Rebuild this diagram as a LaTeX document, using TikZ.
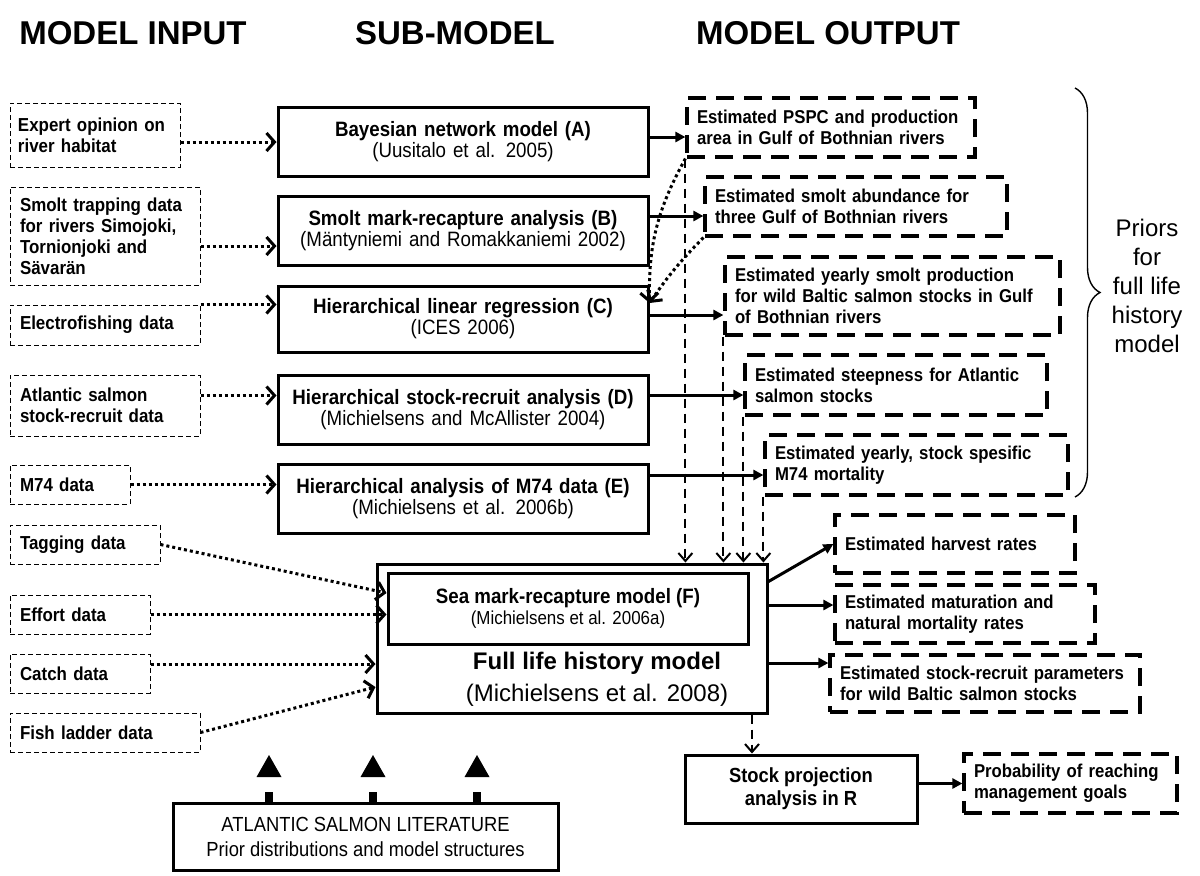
\documentclass[tikz,border=0pt]{standalone}
\usepackage{fontspec}
\setmainfont{Liberation Sans}
\newfontfamily\narrowfont{Liberation Sans}[FakeStretch=0.9]
\usepackage{tikz}
\usetikzlibrary{arrows.meta,positioning,calc,decorations.pathreplacing}

\begin{document}
\begin{tikzpicture}[x=0.5pt,y=-0.5pt,
  hdr/.style={font=\bfseries\fontsize{16.5}{18}\selectfont},
  inbox/.style={draw,line width=0.5pt,dash pattern=on 2.5pt off 1.5pt,align=left,inner xsep=5pt,inner ysep=0pt,font=\narrowfont\bfseries\fontsize{9.4}{10.5}\selectfont},
  subbox/.style={draw,line width=1.5pt,align=center,text width=177pt,inner xsep=4pt,inner ysep=0pt,minimum height=34.5pt,font=\narrowfont\fontsize{10.4}{10.5}\selectfont},
  outbox/.style={draw,line width=1.6pt,dash pattern=on 9pt off 5pt,align=left,inner xsep=5pt,inner ysep=0pt,font=\narrowfont\bfseries\fontsize{9.3}{10.5}\selectfont},
  solidbox/.style={draw,line width=1.5pt,align=center,inner sep=0pt},
  dotarr/.style={line width=1.5pt,dash pattern=on 1.5pt off 1.5pt,-{Straight Barb[length=4pt,width=9pt]}},
  solarr/.style={line width=1.5pt,-{Triangle[length=5pt,width=5pt]}},
  dasharr/.style={line width=1pt,dash pattern=on 4.5pt off 3pt,-{Straight Barb[length=4pt,width=7pt]}}]
  \useasboundingbox (0,0) rectangle (1200,875); % 画像全体の範囲

  % 見出し
  \node[hdr] (hin) at (133,33) {MODEL INPUT};
  \node[hdr] (hsub) at (455,33) {SUB-MODEL};
  \node[hdr] (hout) at (828,33) {MODEL OUTPUT};

  % 入力データ（細い破線の箱）
  \node[inbox,inner xsep=4pt,text width=77pt,minimum height=32pt] (expert) at (95,135) {Expert opinion on\\river habitat};
  \node[inbox,text width=85pt,minimum height=49pt] (trap) at (105,236) {Smolt trapping data\\for rivers Simojoki,\\Tornionjoki and\\Sävarän};
  \node[inbox,text width=85pt,minimum height=20pt] (elec) at (105,325) {Electrofishing data};
  \node[inbox,text width=85pt,minimum height=30.5pt] (atl) at (105,405.5) {Atlantic salmon\\stock-recruit data};
  \node[inbox,text width=50pt,minimum height=19.5pt] (m74) at (70,484.5) {M74 data};
  \node[inbox,text width=65pt,minimum height=19.5pt] (tag) at (85,544.5) {Tagging data};
  \node[inbox,text width=60pt,minimum height=19.5pt] (effort) at (80,614.5) {Effort data};
  \node[inbox,text width=60pt,minimum height=19.5pt] (catch) at (80,673.5) {Catch data};
  \node[inbox,text width=85pt,minimum height=19.5pt] (fish) at (105,732.5) {Fish ladder data};

  % サブモデル（太い実線の箱）
  \node[subbox] (A) at (463,142) {{\bfseries Bayesian network model (A)}\\(Uusitalo et al. 2005)};
  \node[subbox] (B) at (463,231) {{\bfseries Smolt mark-recapture analysis (B)}\\(Mäntyniemi and Romakkaniemi 2002)};
  \node[subbox,minimum height=33pt] (C) at (463,319) {{\bfseries Hierarchical linear regression (C)}\\(ICES 2006)};
  \node[subbox] (D) at (463,410) {{\bfseries Hierarchical stock-recruit analysis (D)}\\(Michielsens and McAllister 2004)};
  \node[subbox] (E) at (463,499) {{\bfseries Hierarchical analysis of M74 data (E)}\\(Michielsens et al. 2006b)};

  % 全生活史モデル
  \node[solidbox,minimum width=195pt,minimum height=74.5pt] (full) at (572,638.5) {};
  \node[solidbox,minimum width=180pt,minimum height=35.5pt,font=\narrowfont\fontsize{9.4}{10.5}\selectfont] (sea) at (568,608.5) {{\bfseries\fontsize{10.4}{10.5}\selectfont Sea mark-recapture model (F)}\\(Michielsens et al. 2006a)};
  \node[align=center,font=\fontsize{12}{16}\selectfont] (fulltxt) at (597,679) {{\bfseries Full life history model}\\(Michielsens et al. 2008)};

  % 出力（太い破線の箱）
  \node[outbox,text width=134pt,minimum height=29.5pt] (O1) at (831,127.5) {Estimated PSPC and production\\area in Gulf of Bothnian rivers};
  \node[outbox,text width=141pt,minimum height=29.5pt] (O2) at (856,206.5) {Estimated smolt abundance for\\three Gulf of Bothnian rivers};
  \node[outbox,text width=157.5pt,minimum height=39pt] (O3) at (892.5,296) {Estimated yearly smolt production\\for wild Baltic salmon stocks in Gulf\\of Bothnian rivers};
  \node[outbox,text width=141pt,minimum height=30pt] (O4) at (896,385) {Estimated steepness for Atlantic\\salmon stocks};
  \node[outbox,text width=141.5pt,minimum height=30pt] (O5) at (916.5,465) {Estimated yearly, stock spesific\\M74 mortality};
  \node[outbox,text width=110pt,minimum height=29pt] (O6) at (955,544) {Estimated harvest rates};
  \node[outbox,text width=120pt,minimum height=29pt] (O7) at (965,614) {Estimated maturation and\\natural mortality rates};
  \node[outbox,text width=145pt,minimum height=28.5pt] (O8) at (985,683.5) {Estimated stock-recruit parameters\\for wild Baltic salmon stocks};
  \node[solidbox,minimum width=116pt,minimum height=34pt,font=\narrowfont\bfseries\fontsize{10.2}{11.5}\selectfont] (stock) at (801,789) {Stock projection\\analysis in R};
  \node[outbox,text width=96.5pt,minimum height=29.5pt] (prob) at (1070.5,783.5) {Probability of reaching\\management goals};

  % 文献の箱と三角の矢印
  \node[solidbox,minimum width=192.5pt,minimum height=33.5pt,font=\narrowfont\fontsize{10.2}{12.5}\selectfont] (lit) at (365.5,836.5) {ATLANTIC SALMON LITERATURE\\Prior distributions and model structures};
  \foreach \tx in {269,373,477}{
    \fill (\tx-4,792) rectangle (\tx+4,803); % 軸
    \fill (\tx-12.5,777) -- (\tx+12.5,777) -- (\tx,755) -- cycle; % 三角
  }

  % 事前分布の括弧
  \draw[decorate,decoration={brace,amplitude=12.5pt},line width=0.7pt] (1075,88) -- (1075,497);
  \node[align=center,font=\fontsize{12}{14.5}\selectfont] (priors) at (1147,286) {Priors\\for\\full life\\history\\model};

  % 入力→サブモデル（点線）
  \draw[dotarr] (expert.east |- A.west) -- (A.west);
  \draw[dotarr] ([yshift=-5pt]trap.east) -- ([yshift=-5pt]trap.east -| B.west);
  \draw[dotarr] (elec.north east) -- (elec.north east -| C.west);
  \draw[dotarr] ([yshift=5pt]atl.east) -- ([yshift=5pt]atl.east -| D.west);
  \draw[dotarr] (m74.east) -- (m74.east -| E.west);
  \draw[dotarr] (tag.east) -- ([yshift=7.75pt]sea.west);
  \draw[dotarr] (effort.east) -- (effort.east -| sea.west);
  \draw[dotarr] ([yshift=4.75pt]catch.east) -- ([yshift=4.75pt]catch.east -| full.west);
  \draw[dotarr] (fish.east) -- ([yshift=-24.25pt]full.west);

  % サブモデル→出力（実線）
  \draw[solarr] ([yshift=2.5pt]A.east) -- ([yshift=2.5pt]A.east -| O1.west);
  \draw[solarr] ([yshift=7.5pt]B.east) -- ([yshift=7.5pt]B.east -| O2.west);
  \draw[solarr] ([yshift=2pt]C.east) -- ([yshift=2pt]C.east -| O3.west);
  \draw[solarr] ([yshift=7.5pt]D.east) -- ([yshift=7.5pt]D.east -| O4.west);
  \draw[solarr] ([yshift=12pt]E.east) -- ([yshift=12pt]E.east -| O5.west);
  \draw[dotarr] (O1.south west) to[bend right=15] ([yshift=8pt]C.east);
  \draw[dotarr] (O2.south west) to[bend right=5] ([yshift=8pt]C.east);

  % 出力→全生活史モデル（破線）
  \draw[dasharr] (O1.south west) -- (O1.south west |- full.north);
  \draw[dasharr] (O3.south west) -- (O3.south west |- full.north);
  \draw[dasharr] (O4.south west) -- (O4.south west |- full.north);
  \draw[dasharr] (O5.south west) -- (O5.south west |- full.north);

  % 全生活史モデル→出力
  \draw[solarr] ([yshift=-9.5pt]full.north east) -- (O6.west);
  \draw[solarr] ([yshift=16.75pt]full.east) -- ([yshift=16.75pt]full.east -| O7.west);
  \draw[solarr] ([yshift=-12.25pt]full.east) -- ([yshift=-12.25pt]full.east -| O8.west);
  \draw[dasharr] ([xshift=90pt]full.south) -- ([xshift=90pt]full.south |- stock.north);
  \draw[solarr] (stock.east |- prob.west) -- (prob.west);
\end{tikzpicture}
\end{document}
